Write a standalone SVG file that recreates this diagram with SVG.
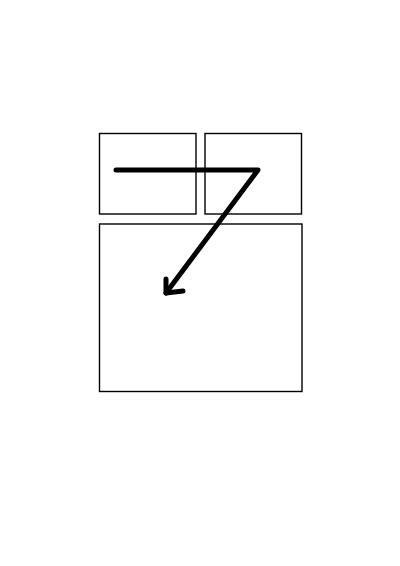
<svg xmlns="http://www.w3.org/2000/svg" width="400" height="566" viewBox="0 0 400 566">
<style>
.box{fill:none;stroke:#000;stroke-width:1.4}
.stroke{fill:none;stroke:#000;stroke-width:5;stroke-linecap:round;stroke-linejoin:round}
</style>
<rect width="400" height="566" fill="#fff"/>
<g id="node-top-left"><rect class="box" x="99.5" y="133.5" width="96.5" height="80.5"/></g>
<g id="node-top-right"><rect class="box" x="205" y="133.5" width="96.5" height="80.5"/></g>
<g id="node-bottom"><rect class="box" x="99.5" y="224" width="202.5" height="167.5"/></g>
<g id="connectors">
<path class="stroke" d="M116 170 L258 170 L166 293"/>
<path class="stroke" d="M166 279 L166 293 L183 291"/>
</g>
</svg>
